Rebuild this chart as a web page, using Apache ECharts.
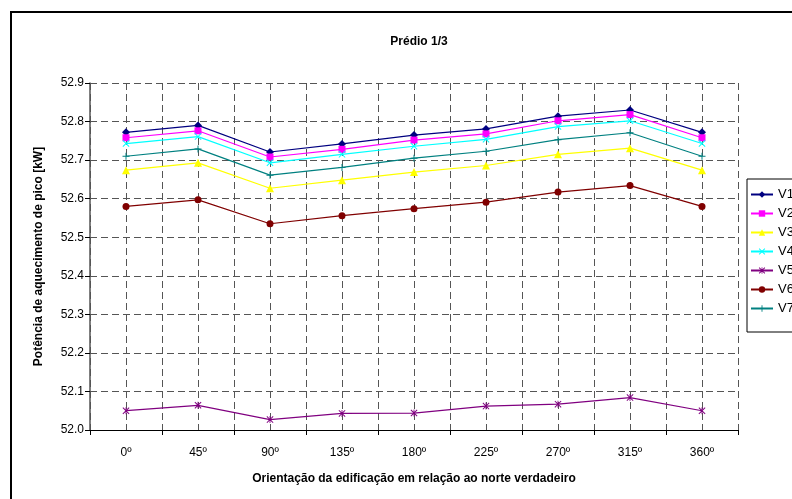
<!DOCTYPE html>
<html>
<head>
<meta charset="utf-8">
<script src="https://cdn.jsdelivr.net/npm/echarts@6/dist/echarts.min.js"></script>
<style>
  html, body { margin: 0; padding: 0; background: #fff; }
  #chart { width: 792px; height: 499px; }
</style>
</head>
<body>
<div id="chart"></div>
<script>
const ORIENTATIONS = ["0º", "45º", "90º", "135º", "180º", "225º", "270º", "315º", "360º"];

const V1 = [52.772, 52.790, 52.721, 52.742, 52.765, 52.781, 52.814, 52.830, 52.772];
const V2 = [52.758, 52.776, 52.708, 52.728, 52.752, 52.768, 52.802, 52.818, 52.758];
const V3 = [52.674, 52.693, 52.627, 52.648, 52.669, 52.686, 52.715, 52.731, 52.674];
const V4 = [52.743, 52.761, 52.693, 52.715, 52.736, 52.754, 52.787, 52.802, 52.743];
const V5 = [52.050, 52.064, 52.027, 52.043, 52.044, 52.062, 52.067, 52.084, 52.050];
const V6 = [52.580, 52.597, 52.535, 52.556, 52.574, 52.591, 52.617, 52.634, 52.580];
const V7 = [52.710, 52.729, 52.661, 52.681, 52.705, 52.723, 52.753, 52.771, 52.710];

const FONT = "Liberation Sans, Arial, sans-serif";

const CROSS = "path://M0,1L1,0L5,4L9,0L10,1L6,5L10,9L9,10L5,6L1,10L0,9L4,5Z";
const PLUS = "path://M4.3,0H5.7V4.3H10V5.7H5.7V10H4.3V5.7H0V4.3H4.3Z";
const STAR = "path://M0,1L1,0L5,4L9,0L10,1L6,5L10,9L9,10L5,6L1,10L0,9L4,5ZM4.4,0H5.6V10H4.4Z";

const SERIES = [
  { name: "V1", data: V1, color: "#000080", symbol: "diamond", size: 8 },
  { name: "V2", data: V2, color: "#ff00ff", symbol: "rect", size: 7 },
  { name: "V3", data: V3, color: "#ffff00", symbol: "triangle", size: 8 },
  { name: "V4", data: V4, color: "#00ffff", symbol: CROSS, size: 7 },
  { name: "V5", data: V5, color: "#800080", symbol: STAR, size: 7 },
  { name: "V6", data: V6, color: "#800000", symbol: "circle", size: 7 },
  { name: "V7", data: V7, color: "#008080", symbol: PLUS, size: 7 },
];

const chart = echarts.init(document.getElementById("chart"));

const dashed = { show: true, lineStyle: { color: "#555", type: [7, 4], width: 1 } };

chart.setOption({
  animation: false,
  backgroundColor: "#fff",
  textStyle: { fontFamily: FONT },
  title: {
    text: "Prédio 1/3",
    left: 414,
    top: 31,
    textAlign: "center",
    textStyle: { fontFamily: FONT, fontSize: 12, fontWeight: "bold", color: "#000" },
  },
  legend: {
    orient: "vertical",
    left: 747,
    top: 179,
    padding: [9, 30, 17, 3],
    itemWidth: 22,
    itemHeight: 8,
    itemGap: 6,
    borderColor: "#000",
    borderWidth: 1,
    backgroundColor: "#fff",
    selectedMode: false,
    textStyle: { fontFamily: FONT, fontSize: 13, color: "#000" },
    data: SERIES.map(s => s.name),
  },
  graphic: [{
    type: "rect",
    shape: { x: 11, y: 12, width: 900, height: 600 },
    style: { fill: "none", stroke: "#000", lineWidth: 2 },
    z: -1,
  }],
  grid: { left: 90, top: 83, right: 54, bottom: 69 },
  xAxis: [
    {
      type: "category",
      data: ORIENTATIONS,
      boundaryGap: true,
      name: "Orientação da edificação em relação ao norte verdadeiro",
      nameLocation: "middle",
      nameGap: 43,
      nameTextStyle: { fontFamily: FONT, fontSize: 12, fontWeight: "bold", color: "#000" },
      axisLine: { lineStyle: { color: "#000", width: 1 } },
      axisTick: { show: true, length: 5, lineStyle: { color: "#000" } },
      axisLabel: { fontFamily: FONT, fontSize: 12, color: "#000", margin: 17 },
      splitLine: { show: false },
    },
    {
      type: "value",
      min: 0,
      max: 18,
      interval: 1,
      position: "bottom",
      show: true,
      axisLine: { show: false },
      axisTick: { show: false },
      axisLabel: { show: false },
      splitLine: dashed,
    },
  ],
  yAxis: {
    type: "value",
    min: 52.0,
    max: 52.9,
    interval: 0.1,
    name: "Potência de aquecimento de pico [kW]",
    nameLocation: "middle",
    nameGap: 45,
    nameTextStyle: { fontFamily: FONT, fontSize: 12, fontWeight: "bold", color: "#000" },
    axisLine: { show: true, lineStyle: { color: "#555", width: 1.5 } },
    axisTick: { show: true, length: 5, lineStyle: { color: "#000" } },
    axisLabel: {
      fontFamily: FONT, fontSize: 12, color: "#000", margin: 6,
      formatter: v => v.toFixed(1),
    },
    splitLine: dashed,
  },
  series: SERIES.map(s => ({
    name: s.name,
    type: "line",
    xAxisIndex: 0,
    data: s.data,
    symbol: s.symbol,
    symbolSize: s.size,
    showAllSymbol: true,
    lineStyle: { color: s.color, width: 1.2 },
    itemStyle: { color: s.color },
    emphasis: { disabled: true },
  })),
});
</script>
</body>
</html>
